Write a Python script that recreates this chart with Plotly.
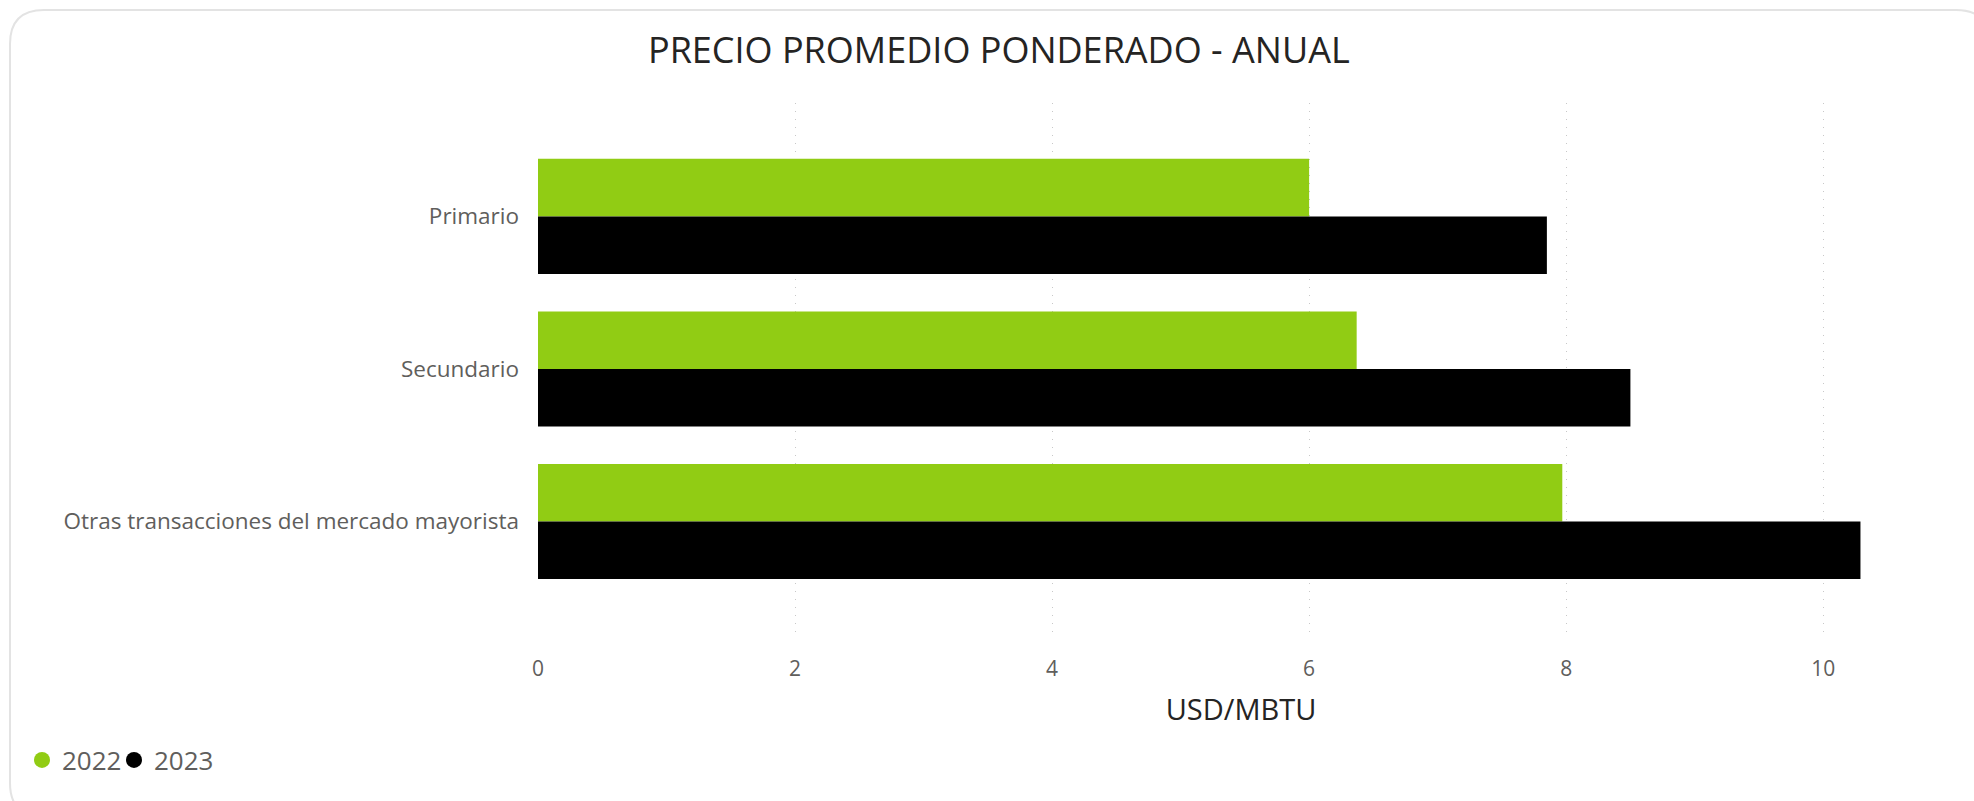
import plotly.graph_objects as go

categories = ["Primario", "Secundario", "Otras transacciones del mercado mayorista"]
years = ["2022", "2023"]
values_2022 = [6.00, 6.37, 7.97]
values_2023 = [7.85, 8.50, 10.29]
x_ticks = [0, 2, 4, 6, 8, 10]

colors = {"2022": "#91CC14", "2023": "#000000"}
FONT = "Segoe UI, Open Sans, sans-serif"

W, H = 1974, 801
ML, MR, MT, MB = 538, 30, 103, 165

pw = W - ML - MR
ph = H - MT - MB
def px2paper(x, y):
    return (x - ML) / pw, (H - MB - y) / ph

fig = go.Figure()
legend_names = {"2022": "legend", "2023": "legend2"}
for yr, vals in zip(years, [values_2022, values_2023]):
    fig.add_trace(go.Bar(
        y=categories, x=vals, orientation="h", name=yr,
        marker=dict(color=colors[yr], line=dict(width=0)),
        showlegend=False,
    ))
    fig.add_trace(go.Scatter(
        x=[None], y=[None], mode="markers", name=yr,
        marker=dict(color=colors[yr], size=18, symbol="circle"),
        showlegend=True, legend=legend_names[yr],
    ))

# rounded card border
x0, y0, x1, y1, r = 10, 10, 1990, 817, 34
def P(x, y):
    a, b = px2paper(x, y)
    return f"{a:.5f},{b:.5f}"
path = (f"M {P(x0+r, y0)} L {P(x1-r, y0)} Q {P(x1, y0)} {P(x1, y0+r)} "
        f"L {P(x1, y1-r)} Q {P(x1, y1)} {P(x1-r, y1)} L {P(x0+r, y1)} "
        f"Q {P(x0, y1)} {P(x0, y1-r)} L {P(x0, y0+r)} Q {P(x0, y0)} {P(x0+r, y0)} Z")
fig.add_shape(type="path", path=path, xref="paper", yref="paper",
              line=dict(color="#E3E3E3", width=2), fillcolor="rgba(0,0,0,0)", layer="below")

legend_common = dict(orientation="h", xanchor="left", yanchor="middle",
                     y=(H - MB - 760) / ph, font=dict(size=26, color="#605E5C"),
                     itemwidth=30, bgcolor="rgba(0,0,0,0)")

fig.update_layout(
    width=W, height=H,
    margin=dict(l=ML, r=MR, t=MT, b=MB, pad=0),
    paper_bgcolor="white", plot_bgcolor="white",
    barmode="group", bargap=0.246, bargroupgap=0,
    font=dict(family=FONT, color="#605E5C"),
    title=dict(text="PRECIO PROMEDIO PONDERADO - ANUAL", x=0.506, xanchor="center",
               xref="container", y=1 - 50 / H, yanchor="middle", yref="container",
               font=dict(size=36, color="#252423", family=FONT)),
    xaxis=dict(range=[0, 10.94], tickvals=x_ticks, ticktext=[str(v) for v in x_ticks],
               showgrid=True, gridcolor="#C8C8C8", griddash="1px,7px", gridwidth=1,
               zeroline=False, showline=False, ticks="", ticklabelstandoff=18,
               tickfont=dict(size=21, color="#605E5C"),
               title=dict(text="USD/MBTU", standoff=18, font=dict(size=29, color="#252423"))),
    yaxis=dict(range=[2.75, -0.743], type="category", showgrid=False, zeroline=False,
               showline=False, ticks="", ticklabelstandoff=18,
               tickfont=dict(size=22.5, color="#605E5C")),
    legend=dict(x=(22 - ML) / pw, **legend_common),
    legend2=dict(x=(114 - ML) / pw, **legend_common),
)

fig.write_html("out.html", config={"displayModeBar": False},
               post_script="document.body.style.margin='0';")
